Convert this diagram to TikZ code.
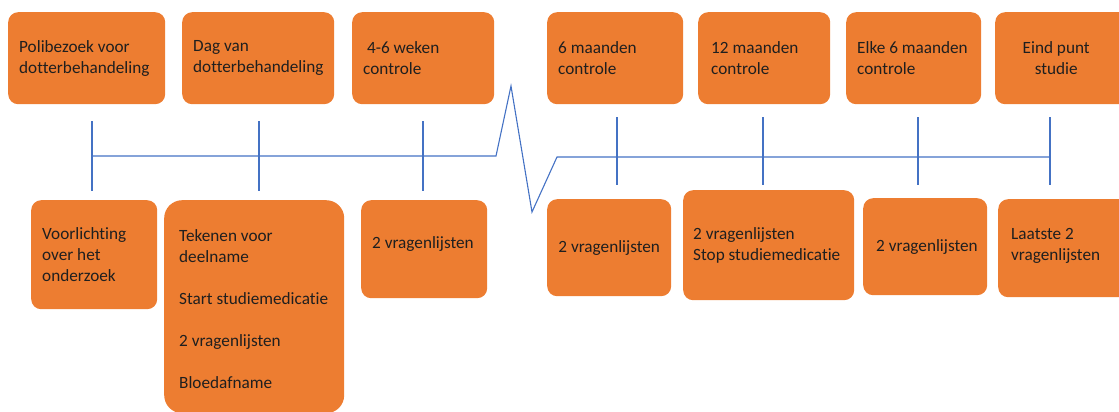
\documentclass[tikz,border=0pt]{standalone}
\usepackage{fontspec}
\setmainfont[Ligatures=NoCommon]{Carlito}
\definecolor{boxorange}{HTML}{ED7D31}
\definecolor{lineblue}{HTML}{4472C4}
\tikzset{
  box/.style={fill=boxorange,rounded corners=10pt,inner sep=0pt,anchor=north west},
  txt/.style={align=left,inner sep=0pt,font=\fontsize{17.2}{21}\selectfont,text=black!88},
  tl/.style={draw=lineblue,line width=1.1pt}
}
% box with left aligned text: text options, name, x1, y1, x2, y2, text
\newcommand{\boxat}[7][]{%
  \node[box,minimum width={(#5-#3)*1pt},minimum height={(#6-#4)*1pt}] (#2) at (#3,#4) {};
  \node[txt,anchor=west,#1] (#2-txt) at ([xshift=11pt]#2.west) {#7};}
% box with centred text
\newcommand{\cboxat}[7][]{%
  \node[box,minimum width={(#5-#3)*1pt},minimum height={(#6-#4)*1pt}] (#2) at (#3,#4) {};
  \node[txt,align=center,#1] (#2-txt) at (#2.center) {#7};}

\begin{document}
\begin{tikzpicture}[x=1pt,y=-1pt]
    \useasboundingbox (0,0) rectangle (1119,412);
    % top row
    \boxat{t1}{8}{12}{165}{104}{Polibezoek voor\\dotterbehandeling}
    \boxat{t2}{182}{12}{334}{104}{Dag van\\dotterbehandeling}
    \boxat{t3}{352}{12}{494}{104}{\ 4-6 weken\\controle}
    \boxat{t4}{547}{12}{683}{104}{6 maanden\\controle}
    \boxat[xshift=2pt]{t5}{698}{12}{830}{104}{12 maanden\\controle}
    \boxat{t6}{846}{12}{981}{104}{Elke 6 maanden\\controle}
    \cboxat[xshift=-14pt]{t7}{995}{12}{1145}{104}{Eind punt\\studie}
    % bottom row
    \boxat{b1}{31}{200}{157}{309}{Voorlichting\\over het\\onderzoek}
    \node[box,rounded corners=18pt,minimum width=180pt,minimum height=213pt] (b2) at (164,200) {};
    \node[txt,anchor=west,yshift=-2pt] (b2-txt) at ([xshift=15pt]b2.west)
      {Tekenen voor\\deelname\\[21pt]Start studiemedicatie\\[21pt]2 vragenlijsten\\[21pt]Bloedafname};
    \boxat[yshift=5pt]{b3}{361}{200}{487}{298}{2 vragenlijsten}
    \cboxat{b4}{547}{199}{671}{296}{2 vragenlijsten}
    \boxat[xshift=-1pt]{b5}{683}{190}{854}{300}{2 vragenlijsten\\Stop studiemedicatie}
    \boxat[xshift=2pt]{b6}{863}{198}{987}{295}{2 vragenlijsten}
    \boxat[xshift=2pt,yshift=2pt]{b7}{998}{199}{1135}{297}{Laatste 2\\vragenlijsten}
    % timeline with break
    \coordinate (s) at (92,156);
    \coordinate (e) at (1050,157);
    \draw[tl] (s) -- (496,156) -- (511,86) -- (532,212) -- (557,157) -- (e);
    \foreach \x/\a/\b in {92/121/191,259/121/191,423/121/191,617/117/185,763/117/185,918/117/185,1050/117/185}
      \draw[tl] (\x,\a) -- (\x,\b);
\end{tikzpicture}
\end{document}
